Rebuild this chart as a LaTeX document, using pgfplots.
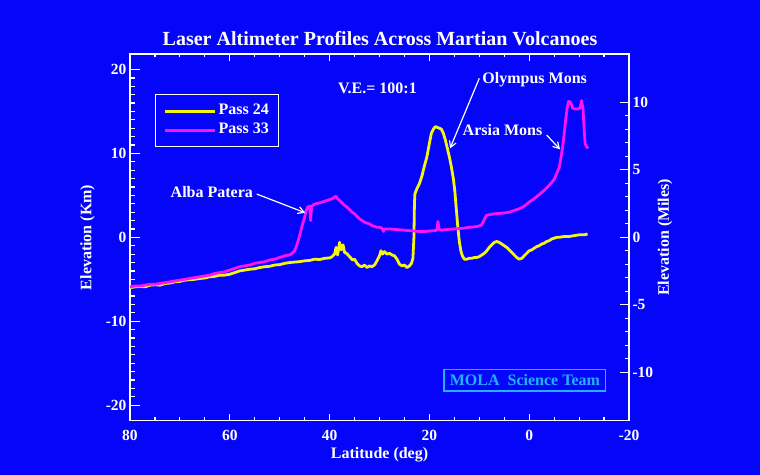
\documentclass[border=0pt]{standalone}
\usepackage{pgfplots}
\pgfplotsset{compat=1.18}
\usepackage{fontspec}
\setmainfont{Liberation Serif}
\usetikzlibrary{arrows.meta}

\definecolor{bgblue}{RGB}{5,5,250}
\definecolor{pyellow}{RGB}{245,245,20}
\definecolor{pmag}{RGB}{250,20,250}
\definecolor{mcyan}{RGB}{30,180,255}

\newcommand{\fs}{\fontsize{16bp}{18bp}\selectfont\bfseries}
\newcommand{\ft}{\fontsize{15.5bp}{18bp}\selectfont\bfseries}

\pgfplotstableread{
lat elev
80.0 -6.0
79.0 -5.9
78.0 -5.85
77.0 -5.9
76.0 -5.7
75.0 -5.65
74.0 -5.7
73.0 -5.5
72.0 -5.45
71.0 -5.3
70.0 -5.25
69.0 -5.1
68.0 -5.05
67.0 -5.0
66.0 -4.9
65.0 -4.85
64.0 -4.7
63.0 -4.65
62.0 -4.5
61.0 -4.5
60.0 -4.4
59.0 -4.2
58.0 -4.0
57.0 -3.9
56.0 -3.8
55.0 -3.75
54.0 -3.6
53.0 -3.5
52.0 -3.45
51.0 -3.3
50.0 -3.25
49.0 -3.1
48.0 -3.0
47.0 -2.95
46.0 -2.9
45.0 -2.8
44.0 -2.75
43.0 -2.6
42.0 -2.65
41.0 -2.5
40.0 -2.45
39.5 -2.3
39.0 -2.0
38.7 -1.2
38.4 -2.1
38.0 -0.6
37.7 -1.5
37.3 -0.9
37.0 -1.8
36.6 -1.9
36.0 -2.3
35.4 -2.7
35.0 -2.6
34.5 -3.1
34.0 -3.4
33.5 -3.5
33.0 -3.3
32.5 -3.6
32.0 -3.4
31.5 -3.5
31.0 -3.3
30.5 -2.8
30.0 -2.2
29.7 -1.6
29.4 -2.0
29.0 -1.7
28.5 -2.0
28.0 -1.9
27.5 -2.1
27.0 -2.2
26.5 -2.6
26.0 -3.2
25.5 -3.4
25.0 -3.3
24.5 -3.6
24.0 -3.4
23.6 -3.1
23.3 -2.5
23.1 0.0
23.0 4.0
22.9 5.2
22.5 5.8
22.0 6.4
21.5 7.3
21.0 8.5
20.5 9.6
20.0 11.2
19.6 12.4
19.2 12.9
18.8 13.2
18.4 13.1
18.0 13.0
17.6 12.9
17.2 12.4
16.8 11.6
16.4 10.6
16.0 9.6
15.6 8.4
15.2 7.0
14.9 5.5
14.6 3.3
14.3 1.2
14.0 -0.5
13.7 -1.6
13.4 -2.2
13.0 -2.6
12.5 -2.6
12.0 -2.5
11.5 -2.5
11.0 -2.4
10.5 -2.4
10.0 -2.3
9.5 -2.1
9.0 -1.9
8.5 -1.6
8.0 -1.2
7.5 -0.9
7.0 -0.6
6.5 -0.5
6.0 -0.6
5.5 -0.8
5.0 -1.0
4.5 -1.2
4.0 -1.5
3.5 -1.8
3.0 -2.1
2.5 -2.4
2.0 -2.6
1.5 -2.5
1.0 -2.2
0.5 -1.9
0.0 -1.6
-0.5 -1.5
-1.0 -1.3
-1.5 -1.1
-2.0 -1.0
-2.5 -0.8
-3.0 -0.7
-3.5 -0.5
-4.0 -0.4
-4.5 -0.2
-5.0 -0.1
-5.5 0.0
-6.0 0.0
-7.0 0.1
-8.0 0.1
-9.0 0.2
-10.0 0.3
-11.0 0.3
-11.7 0.4
}\passA

\pgfplotstableread{
lat elev
80.0 -5.9
79.0 -5.8
78.0 -5.8
77.0 -5.7
76.0 -5.6
75.0 -5.6
74.0 -5.5
73.0 -5.4
72.0 -5.3
71.0 -5.2
70.0 -5.1
69.0 -5.0
68.0 -4.9
67.0 -4.8
66.0 -4.7
65.0 -4.6
64.0 -4.5
63.0 -4.3
62.0 -4.2
61.0 -4.1
60.0 -3.9
59.0 -3.7
58.0 -3.5
57.0 -3.4
56.0 -3.3
55.0 -3.1
54.0 -3.0
53.0 -2.9
52.0 -2.7
51.0 -2.6
50.0 -2.4
49.0 -2.2
48.0 -2.1
47.5 -1.9
47.0 -1.6
46.6 -1.0
46.2 -0.2
45.8 0.7
45.4 1.6
45.0 2.4
44.7 3.2
44.4 3.6
44.0 3.7
43.8 2.0
43.6 3.7
43.2 3.9
42.8 4.0
42.0 4.1
41.0 4.3
40.0 4.5
39.5 4.6
39.0 4.8
38.7 4.9
38.4 4.6
38.0 4.4
37.5 4.1
37.0 3.8
36.5 3.6
36.0 3.3
35.5 3.0
35.0 2.8
34.5 2.5
34.0 2.2
33.5 2.0
33.0 1.8
32.5 1.7
32.0 1.6
31.5 1.4
31.0 1.3
30.5 1.2
30.0 1.2
29.5 1.1
29.2 0.7
29.0 1.0
28.0 1.0
27.0 0.95
26.0 0.9
25.0 0.85
24.0 0.8
23.0 0.75
22.0 0.7
21.0 0.7
20.0 0.75
19.0 0.8
18.5 0.85
18.3 1.9
18.0 0.9
17.5 0.85
17.0 0.9
16.0 0.95
15.0 1.0
14.0 1.05
13.0 1.1
12.0 1.2
11.0 1.25
10.0 1.35
9.5 1.5
9.0 2.1
8.6 2.6
8.0 2.7
7.0 2.8
6.0 2.85
5.0 2.9
4.0 3.0
3.0 3.2
2.0 3.4
1.0 3.7
0.0 4.2
-1.0 4.6
-2.0 5.1
-3.0 5.6
-4.0 6.2
-5.0 6.9
-5.5 7.6
-6.0 8.3
-6.4 9.6
-6.8 11.2
-7.2 13.4
-7.6 15.4
-7.9 16.2
-8.3 16.1
-8.7 15.4
-9.2 15.3
-9.7 15.3
-10.2 15.4
-10.5 16.3
-10.8 15.2
-11.0 13.0
-11.2 11.2
-11.5 10.8
-11.8 10.6
}\passB

\begin{document}
\begin{tikzpicture}[x=1bp,y=1bp]
\fill[bgblue] (0,0) rectangle (760,475);
\useasboundingbox (0,0) rectangle (760,475);
\node[anchor=base, text=white, font=\fontsize{20bp}{22bp}\selectfont\bfseries] at (380,429) {Laser Altimeter Profiles Across Martian Volcanoes};

\begin{axis}[
  at={(130bp,54.3bp)}, anchor=south west,
  scale only axis, width=499bp, height=366.7bp,
  xmin=-20, xmax=80, x dir=reverse,
  ymin=-21.85, ymax=21.85,
  axis line style={white, line width=1.5bp},
  every tick/.style={white, line width=1.2bp},
  tick align=inside,
  major tick length=10bp, minor tick length=5bp,
  xtick style={/pgfplots/major tick length=7bp, /pgfplots/minor tick length=3.5bp},
  xtick={80,60,40,20,0,-20}, minor x tick num=3,
  ytick={-20,-10,0,10,20}, minor y tick num=9,
  ytick pos=left, xtick pos=both,
  ticklabel style={font=\ft, text=white},
  xticklabel style={yshift=-6bp},
  /pgf/number format/assume math mode=true,
  xlabel={Latitude (deg)}, ylabel={Elevation (Km)},
  every axis x label/.style={at={(axis description cs:0.5,-0.0935)}, anchor=center, font=\fs, text=white},
  every axis y label/.style={at={(axis description cs:-0.0852,0.5)}, anchor=center, rotate=90, font=\fs, text=white},
  legend style={at={(axis description cs:0.0501,0.891)}, anchor=north west,
    draw=white, line width=1.2bp, fill=none, text=white, font=\fs,
    inner xsep=8bp, inner ysep=7bp, nodes={inner sep=2bp, text height=11bp, text depth=4bp}, cells={anchor=west}},
  legend image code/.code={\draw[#1, line width=3bp] (0bp,0bp) -- (50bp,0bp);},
  clip=false,
]
\addplot[pyellow, line width=2.8bp, line join=round] table[x=lat, y=elev] {\passA};
\addlegendentry{Pass 24}
\addplot[pmag, line width=2.8bp, line join=round] table[x=lat, y=elev] {\passB};
\addlegendentry{Pass 33}

\node[font=\fs, text=white] at (axis cs:30.4,17.76) {V.E.= 100:1};
\node[font=\fs, text=white] at (axis cs:63.6,5.43) {Alba Patera};
\draw[white, line width=1.2bp, -{Straight Barb[length=6bp,width=7bp]}] (axis cs:54.6,5.16) -- (axis cs:44.9,2.93);
\node[font=\fs, text=white] at (axis cs:-1.1,18.75) {Olympus Mons};
\draw[white, line width=1.2bp, -{Straight Barb[length=6bp,width=7bp]}] (axis cs:10.0,18.95) -- (axis cs:15.87,10.6);
\node[font=\fs, text=white] at (axis cs:5.35,12.79) {Arsia Mons};
\draw[white, line width=1.2bp, -{Straight Barb[length=6bp,width=7bp]}] (axis cs:-3.5,12.19) -- (axis cs:-6.17,10.49);
\node[font=\fs, text=mcyan, draw=mcyan, line width=1.2bp, minimum width=161.7bp, minimum height=21.7bp, inner sep=0pt] at (axis cs:0.86,-17.03) {MOLA\ \ Science Team};
\end{axis}

\begin{axis}[
  at={(130bp,54.3bp)}, anchor=south west,
  scale only axis, width=499bp, height=366.7bp,
  xmin=-20, xmax=80, x dir=reverse,
  ymin=-13.577, ymax=13.577,
  axis x line=none, axis y line*=right,
  axis line style={white, line width=1.5bp},
  every tick/.style={white, line width=1.2bp},
  tick align=inside,
  major tick length=9bp, minor tick length=4.5bp,
  ytick={-10,-5,0,5,10}, minor y tick num=4,
  ticklabel style={font=\ft, text=white},
  /pgf/number format/assume math mode=true,
  ylabel={Elevation (Miles)},
  every axis y label/.style={at={(axis description cs:1.0721,0.5)}, anchor=center, rotate=90, font=\fs, text=white},
]
\end{axis}
\end{tikzpicture}
\end{document}
